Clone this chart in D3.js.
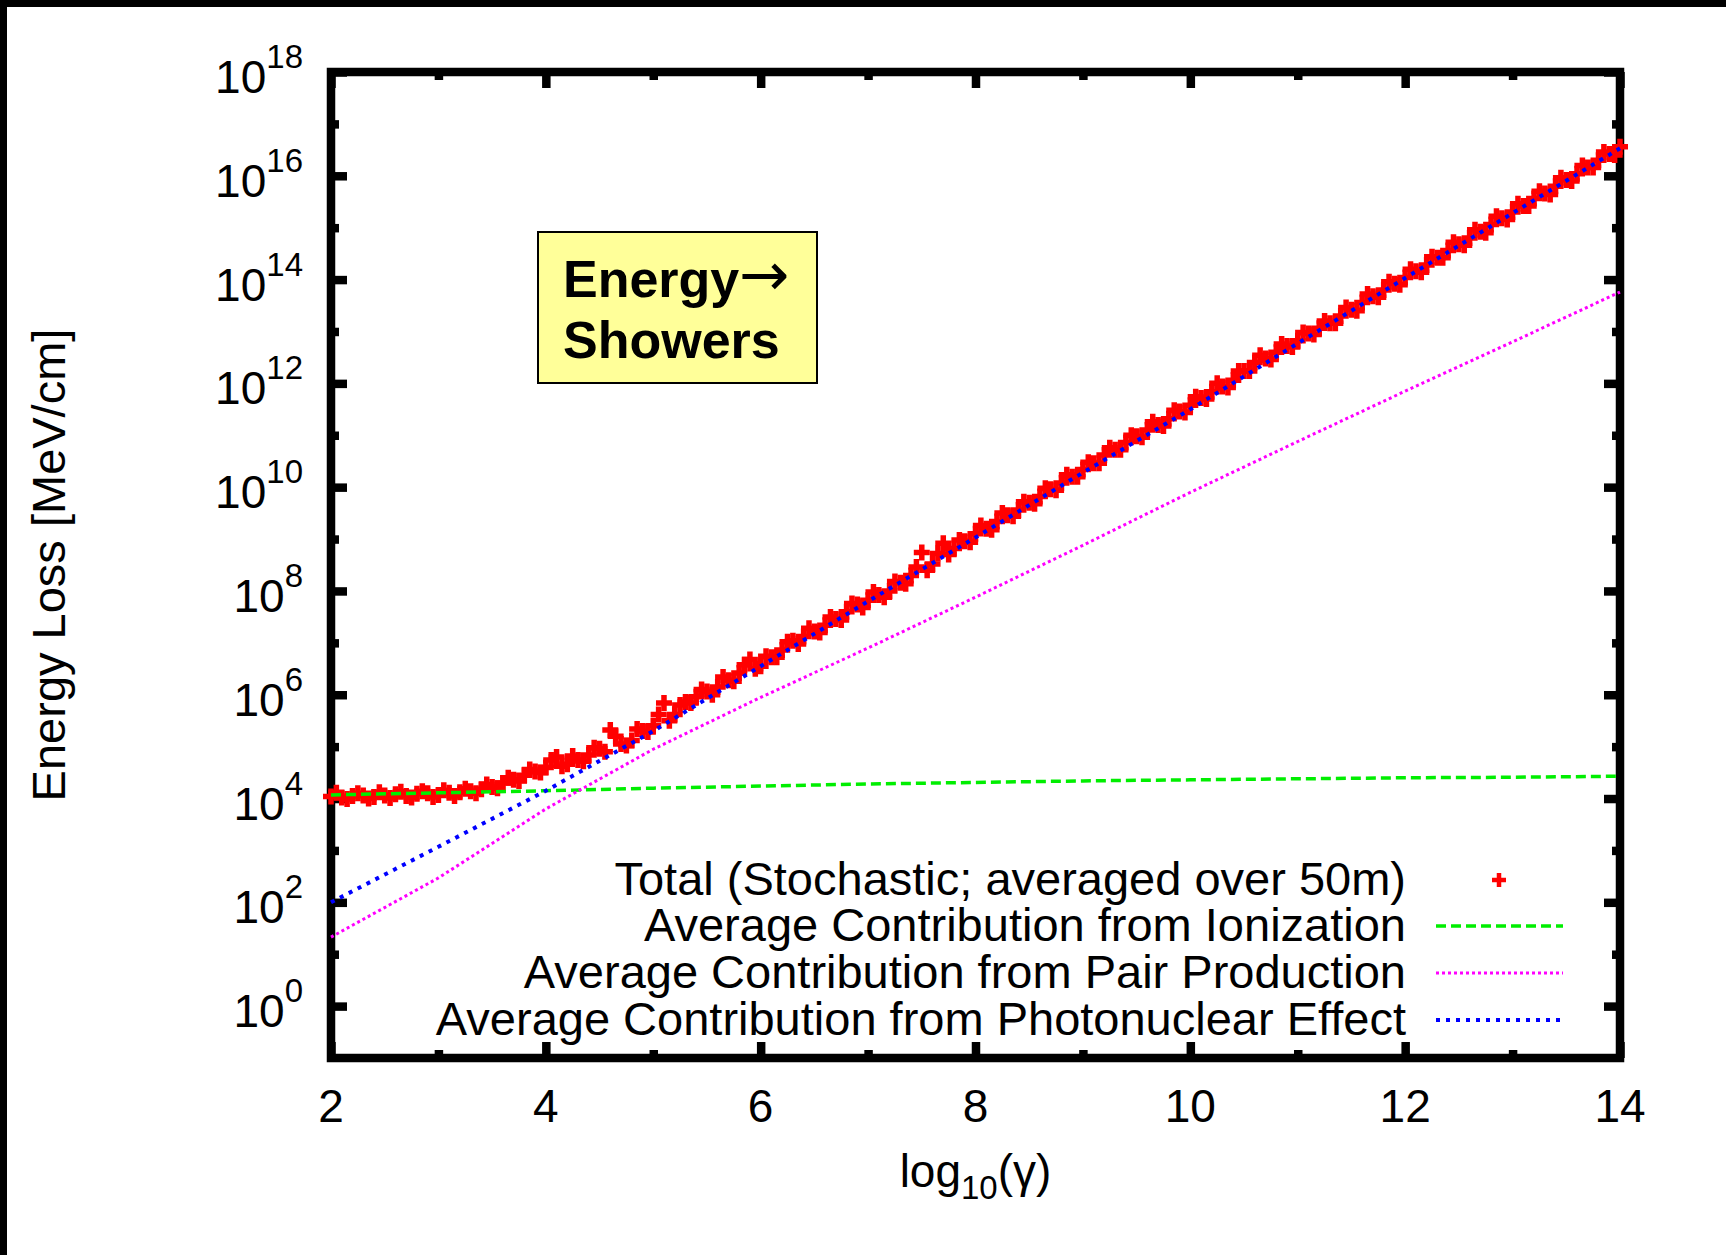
<!DOCTYPE html>
<html>
<head>
<meta charset="utf-8">
<script src="https://cdn.jsdelivr.net/npm/d3@7"></script>
<style>
  html, body { margin: 0; padding: 0; background: #fff; }
  svg { display: block; }
  text { font-family: "Liberation Sans", Arial, Helvetica, sans-serif; fill: #000; }
</style>
</head>
<body>
<script>
// ---------------- data ----------------
const xMajorTicks = [2, 4, 6, 8, 10, 12, 14];
const xMinorTicks = [3, 5, 7, 9, 11, 13];
const yMajorExps = [0, 2, 4, 6, 8, 10, 12, 14, 16, 18];
const yMinorExps = [1, 3, 5, 7, 9, 11, 13, 15, 17];

const legendLabels = [
  "Total (Stochastic; averaged over 50m)",
  "Average Contribution from Ionization",
  "Average Contribution from Pair Production",
  "Average Contribution from Photonuclear Effect"
];

// Total (stochastic) points: x = log10(gamma), value = log10(energy loss)
const totalX = [
  2.0,2.1,2.2,2.3,2.4,2.5,2.6,2.7,2.8,2.9,
  3.0,3.1,3.2,3.3,3.4,3.5,3.6,3.7,3.8,3.9,
  4.0,4.1,4.2,4.3,4.4,4.5,4.6,4.7,4.8,4.9,
  5.0,5.1,5.2,5.3,5.4,5.5,5.6,5.7,5.8,5.9,
  6.0,6.1,6.2,6.3,6.4,6.5,6.6,6.7,6.8,6.9,
  7.0,7.1,7.2,7.3,7.4,7.5,7.6,7.7,7.8,7.9,
  8.0,8.1,8.2,8.3,8.4,8.5,8.6,8.7,8.8,8.9,
  9.0,9.1,9.2,9.3,9.4,9.5,9.6,9.7,9.8,9.9,
  10.0,10.1,10.2,10.3,10.4,10.5,10.6,10.7,10.8,10.9,
  11.0,11.1,11.2,11.3,11.4,11.5,11.6,11.7,11.8,11.9,
  12.0,12.1,12.2,12.3,12.4,12.5,12.6,12.7,12.8,12.9,
  13.0,13.1,13.2,13.3,13.4,13.5,13.6,13.7,13.8,13.9,
  14.0
];
const totalLog = [
  4.04,4.02,4.05,4.06,4.03,4.06,4.08,4.05,4.09,4.10,
  4.07,4.11,4.12,4.14,4.18,4.22,4.30,4.36,4.45,4.52,
  4.60,4.80,4.66,4.74,4.84,4.96,5.32,5.05,5.12,5.30,
  5.40,5.84,5.62,5.86,5.96,6.06,6.15,6.28,6.42,6.68,
  6.55,6.72,6.86,7.04,7.12,7.22,7.34,7.46,7.60,7.74,
  7.82,7.92,8.00,8.16,8.30,8.74,8.52,8.92,8.82,8.96,
  9.10,9.20,9.34,9.46,9.56,9.70,9.82,9.96,10.08,10.20,
  10.34,10.46,10.62,10.72,10.86,10.98,11.10,11.20,11.32,11.46,
  11.58,11.72,11.84,11.94,12.06,12.24,12.40,12.48,12.60,12.72,
  12.82,12.96,13.06,13.16,13.30,13.42,13.56,13.68,13.80,13.92,
  14.04,14.16,14.28,14.42,14.56,14.68,14.80,14.92,15.06,15.18,
  15.30,15.42,15.56,15.66,15.80,15.92,16.04,16.16,16.30,16.42,
  16.56
];
// second (interleaved) set of stochastic samples
const totalX2 = [
  2.05,2.15,2.25,2.35,2.45,2.55,2.65,2.75,2.85,2.95,
  3.05,3.15,3.25,3.35,3.45,3.55,3.65,3.75,3.85,3.95,
  4.05,4.15,4.25,4.35,4.45,4.55,4.65,4.75,4.85,4.95,
  5.05,5.15,5.25,5.35,5.45,5.55,5.65,5.75,5.85,5.95,
  6.05,6.15,6.25,6.35,6.45,6.55,6.65,6.75,6.85,6.95,
  7.05,7.15,7.25,7.35,7.45,7.55,7.65,7.75,7.85,7.95,
  8.05,8.15,8.25,8.35,8.45,8.55,8.65,8.75,8.85,8.95,
  9.05,9.15,9.25,9.35,9.45,9.55,9.65,9.75,9.85,9.95,
  10.05,10.15,10.25,10.35,10.45,10.55,10.65,10.75,10.85,10.95,
  11.05,11.15,11.25,11.35,11.45,11.55,11.65,11.75,11.85,11.95,
  12.05,12.15,12.25,12.35,12.45,12.55,12.65,12.75,12.85,12.95,
  13.05,13.15,13.25,13.35,13.45,13.55,13.65,13.75,13.85,13.95
];
const totalLog2 = [
  4.11,3.99,4.10,4.00,4.12,4.01,4.13,4.02,4.14,4.03,
  4.16,4.05,4.19,4.10,4.27,4.20,4.40,4.34,4.56,4.50,
  4.74,4.62,4.82,4.72,4.98,4.90,5.20,5.02,5.34,5.28,
  5.62,5.50,5.80,5.84,6.10,6.00,6.34,6.26,6.58,6.50,
  6.74,6.72,7.02,6.98,7.28,7.20,7.50,7.44,7.76,7.68,
  7.98,7.88,8.18,8.14,8.46,8.40,8.72,8.70,8.98,8.94,
  9.26,9.18,9.50,9.44,9.72,9.68,9.98,9.94,10.24,10.20,
  10.48,10.46,10.76,10.72,11.00,10.96,11.26,11.18,11.48,11.44,
  11.74,11.70,12.00,11.92,12.24,12.24,12.54,12.46,12.76,12.70,
  12.98,12.94,13.20,13.16,13.46,13.40,13.72,13.66,13.96,13.90,
  14.20,14.14,14.44,14.42,14.72,14.66,14.96,14.90,15.22,15.16,
  15.46,15.42,15.70,15.64,15.96,15.90,16.20,16.16,16.46,16.40
];

// Average contribution curves (x = log10(gamma), value = log10(loss))
const curveX      = [2, 3, 4, 5, 6, 7, 8, 9, 10, 11, 12, 13, 14];
const ionizLog    = [4.07, 4.11, 4.15, 4.20, 4.24, 4.28, 4.31, 4.34, 4.36, 4.38, 4.40, 4.41, 4.43];
const pairLog     = [1.33, 2.47, 3.80, 4.95, 5.95, 6.90, 7.88, 8.88, 9.90, 10.88, 11.85, 12.80, 13.76];
const photonucLog = [2.00, 3.07, 4.15, 5.30, 6.55, 7.80, 9.03, 10.28, 11.50, 12.77, 14.03, 15.28, 16.53];

// ---------------- layout ----------------
const W = 1726, H = 1255;
const X0 = 331, X1 = 1620, Y0 = 72, Y1 = 1058;
const FS = 46;

const svg = d3.select("body").append("svg").attr("width", W).attr("height", H);
svg.append("rect").attr("width", W).attr("height", H).attr("fill", "#fff");
svg.append("rect").attr("x", 0).attr("y", 0).attr("width", W).attr("height", 7).attr("fill", "#000");
svg.append("rect").attr("x", 0).attr("y", 0).attr("width", 7).attr("height", H).attr("fill", "#000");

const x = d3.scaleLinear().domain([2, 14]).range([X0, X1]);
const y = d3.scaleLog().domain([1e-1, 1e18]).range([Y1, Y0]);

// ---------------- ticks (inward, on all four sides) ----------------
const TW = 8.5;
function tickAxis(axisFn, scale, vals, size, transform) {
  const g = svg.append("g").attr("transform", transform)
    .call(axisFn(scale).tickValues(vals).tickSize(-size).tickFormat(""));
  g.select(".domain").remove();
  g.selectAll(".tick line").attr("stroke", "#000").attr("stroke-width", TW);
  return g;
}
const yMajVals = yMajorExps.map(e => Math.pow(10, e));
const yMinVals = yMinorExps.map(e => Math.pow(10, e));
tickAxis(d3.axisLeft, y, yMajVals, 16, `translate(${X0},0)`);
tickAxis(d3.axisLeft, y, yMinVals, 8, `translate(${X0},0)`);
tickAxis(d3.axisRight, y, yMajVals, 16, `translate(${X1},0)`);
tickAxis(d3.axisRight, y, yMinVals, 8, `translate(${X1},0)`);
tickAxis(d3.axisBottom, x, xMajorTicks, 16, `translate(0,${Y1})`);
tickAxis(d3.axisBottom, x, xMinorTicks, 8, `translate(0,${Y1})`);
tickAxis(d3.axisTop, x, xMajorTicks, 16, `translate(0,${Y0})`);
tickAxis(d3.axisTop, x, xMinorTicks, 8, `translate(0,${Y0})`);

// frame
svg.append("rect").attr("x", X0).attr("y", Y0).attr("width", X1 - X0).attr("height", Y1 - Y0)
  .attr("fill", "none").attr("stroke", "#000").attr("stroke-width", TW);

// ---------------- tick labels ----------------
const yl = svg.append("g");
yMajorExps.forEach(e => {
  const t = yl.append("text").attr("x", 303).attr("y", y(Math.pow(10, e)) + 21)
    .attr("text-anchor", "end").attr("font-size", FS);
  t.append("tspan").text("10");
  t.append("tspan").attr("dy", -25).attr("font-size", 33).text(String(e));
});
const xl = svg.append("g");
xMajorTicks.forEach(v => {
  xl.append("text").attr("x", x(v)).attr("y", 1122).attr("text-anchor", "middle")
    .attr("font-size", FS).text(String(v));
});

// axis titles
const xt = svg.append("text").attr("x", (X0 + X1) / 2).attr("y", 1187)
  .attr("text-anchor", "middle").attr("font-size", FS);
xt.append("tspan").text("log");
xt.append("tspan").attr("dy", 12).attr("font-size", 33).text("10");
xt.append("tspan").attr("dy", -12).text("(\u03b3)");

svg.append("text").attr("transform", `translate(65,${(Y0 + Y1) / 2}) rotate(-90)`)
  .attr("text-anchor", "middle").attr("font-size", 47).text("Energy Loss [MeV/cm]");

// ---------------- data marks ----------------
const plusPath = "M-8,0H8M0,-8V8";
const totalData = totalX.map((v, i) => [v, totalLog[i]])
  .concat(totalX2.map((v, i) => [v, totalLog2[i]]));
svg.append("g").selectAll("path").data(totalData).join("path")
  .attr("transform", d => `translate(${x(d[0])},${y(Math.pow(10, d[1]))})`)
  .attr("d", plusPath).attr("stroke", "#ff0000").attr("stroke-width", 5.5).attr("fill", "none");

const line = d3.line().x(d => x(d[0])).y(d => y(Math.pow(10, d[1])));
const styles = [
  { vals: ionizLog,    color: "#00ee00", width: 3.5, dash: "10,5" },
  { vals: pairLog,     color: "#ff00ff", width: 3,   dash: "3,3" },
  { vals: photonucLog, color: "#0000ff", width: 4,   dash: "4,6" }
];
styles.forEach(s => {
  svg.append("path").datum(curveX.map((v, i) => [v, s.vals[i]]))
    .attr("d", line).attr("fill", "none").attr("stroke", s.color)
    .attr("stroke-width", s.width).attr("stroke-dasharray", s.dash);
});

// ---------------- legend ----------------
const legBase = [895, 941, 988, 1035];
const lg = svg.append("g");
legendLabels.forEach((lab, i) => {
  lg.append("text").attr("x", 1406).attr("y", legBase[i]).attr("text-anchor", "end")
    .attr("font-size", 47).text(lab);
  const cy = legBase[i] - 15;
  if (i === 0) {
    lg.append("path").attr("transform", `translate(1499,${cy})`).attr("d", "M-7,0H7M0,-7V7")
      .attr("stroke", "#ff0000").attr("stroke-width", 4.5);
  } else {
    const s = styles[i - 1];
    lg.append("line").attr("x1", 1436).attr("x2", 1563).attr("y1", cy).attr("y2", cy)
      .attr("stroke", s.color).attr("stroke-width", s.width).attr("stroke-dasharray", s.dash);
  }
});

// ---------------- annotation box ----------------
svg.append("rect").attr("x", 538).attr("y", 232).attr("width", 279).attr("height", 151)
  .attr("fill", "#ffff99").attr("stroke", "#000").attr("stroke-width", 2);
const a1 = svg.append("text").attr("x", 563).attr("y", 297).attr("font-size", 52).attr("font-weight", "bold");
a1.append("tspan").text("Energy");
a1.append("tspan").attr("font-weight", "normal").attr("font-family", "DejaVu Sans")
  .attr("font-size", 60).attr("dy", -2).text("\u2192");
svg.append("text").attr("x", 563).attr("y", 358).attr("font-size", 52).attr("font-weight", "bold").text("Showers");
</script>
</body>
</html>
